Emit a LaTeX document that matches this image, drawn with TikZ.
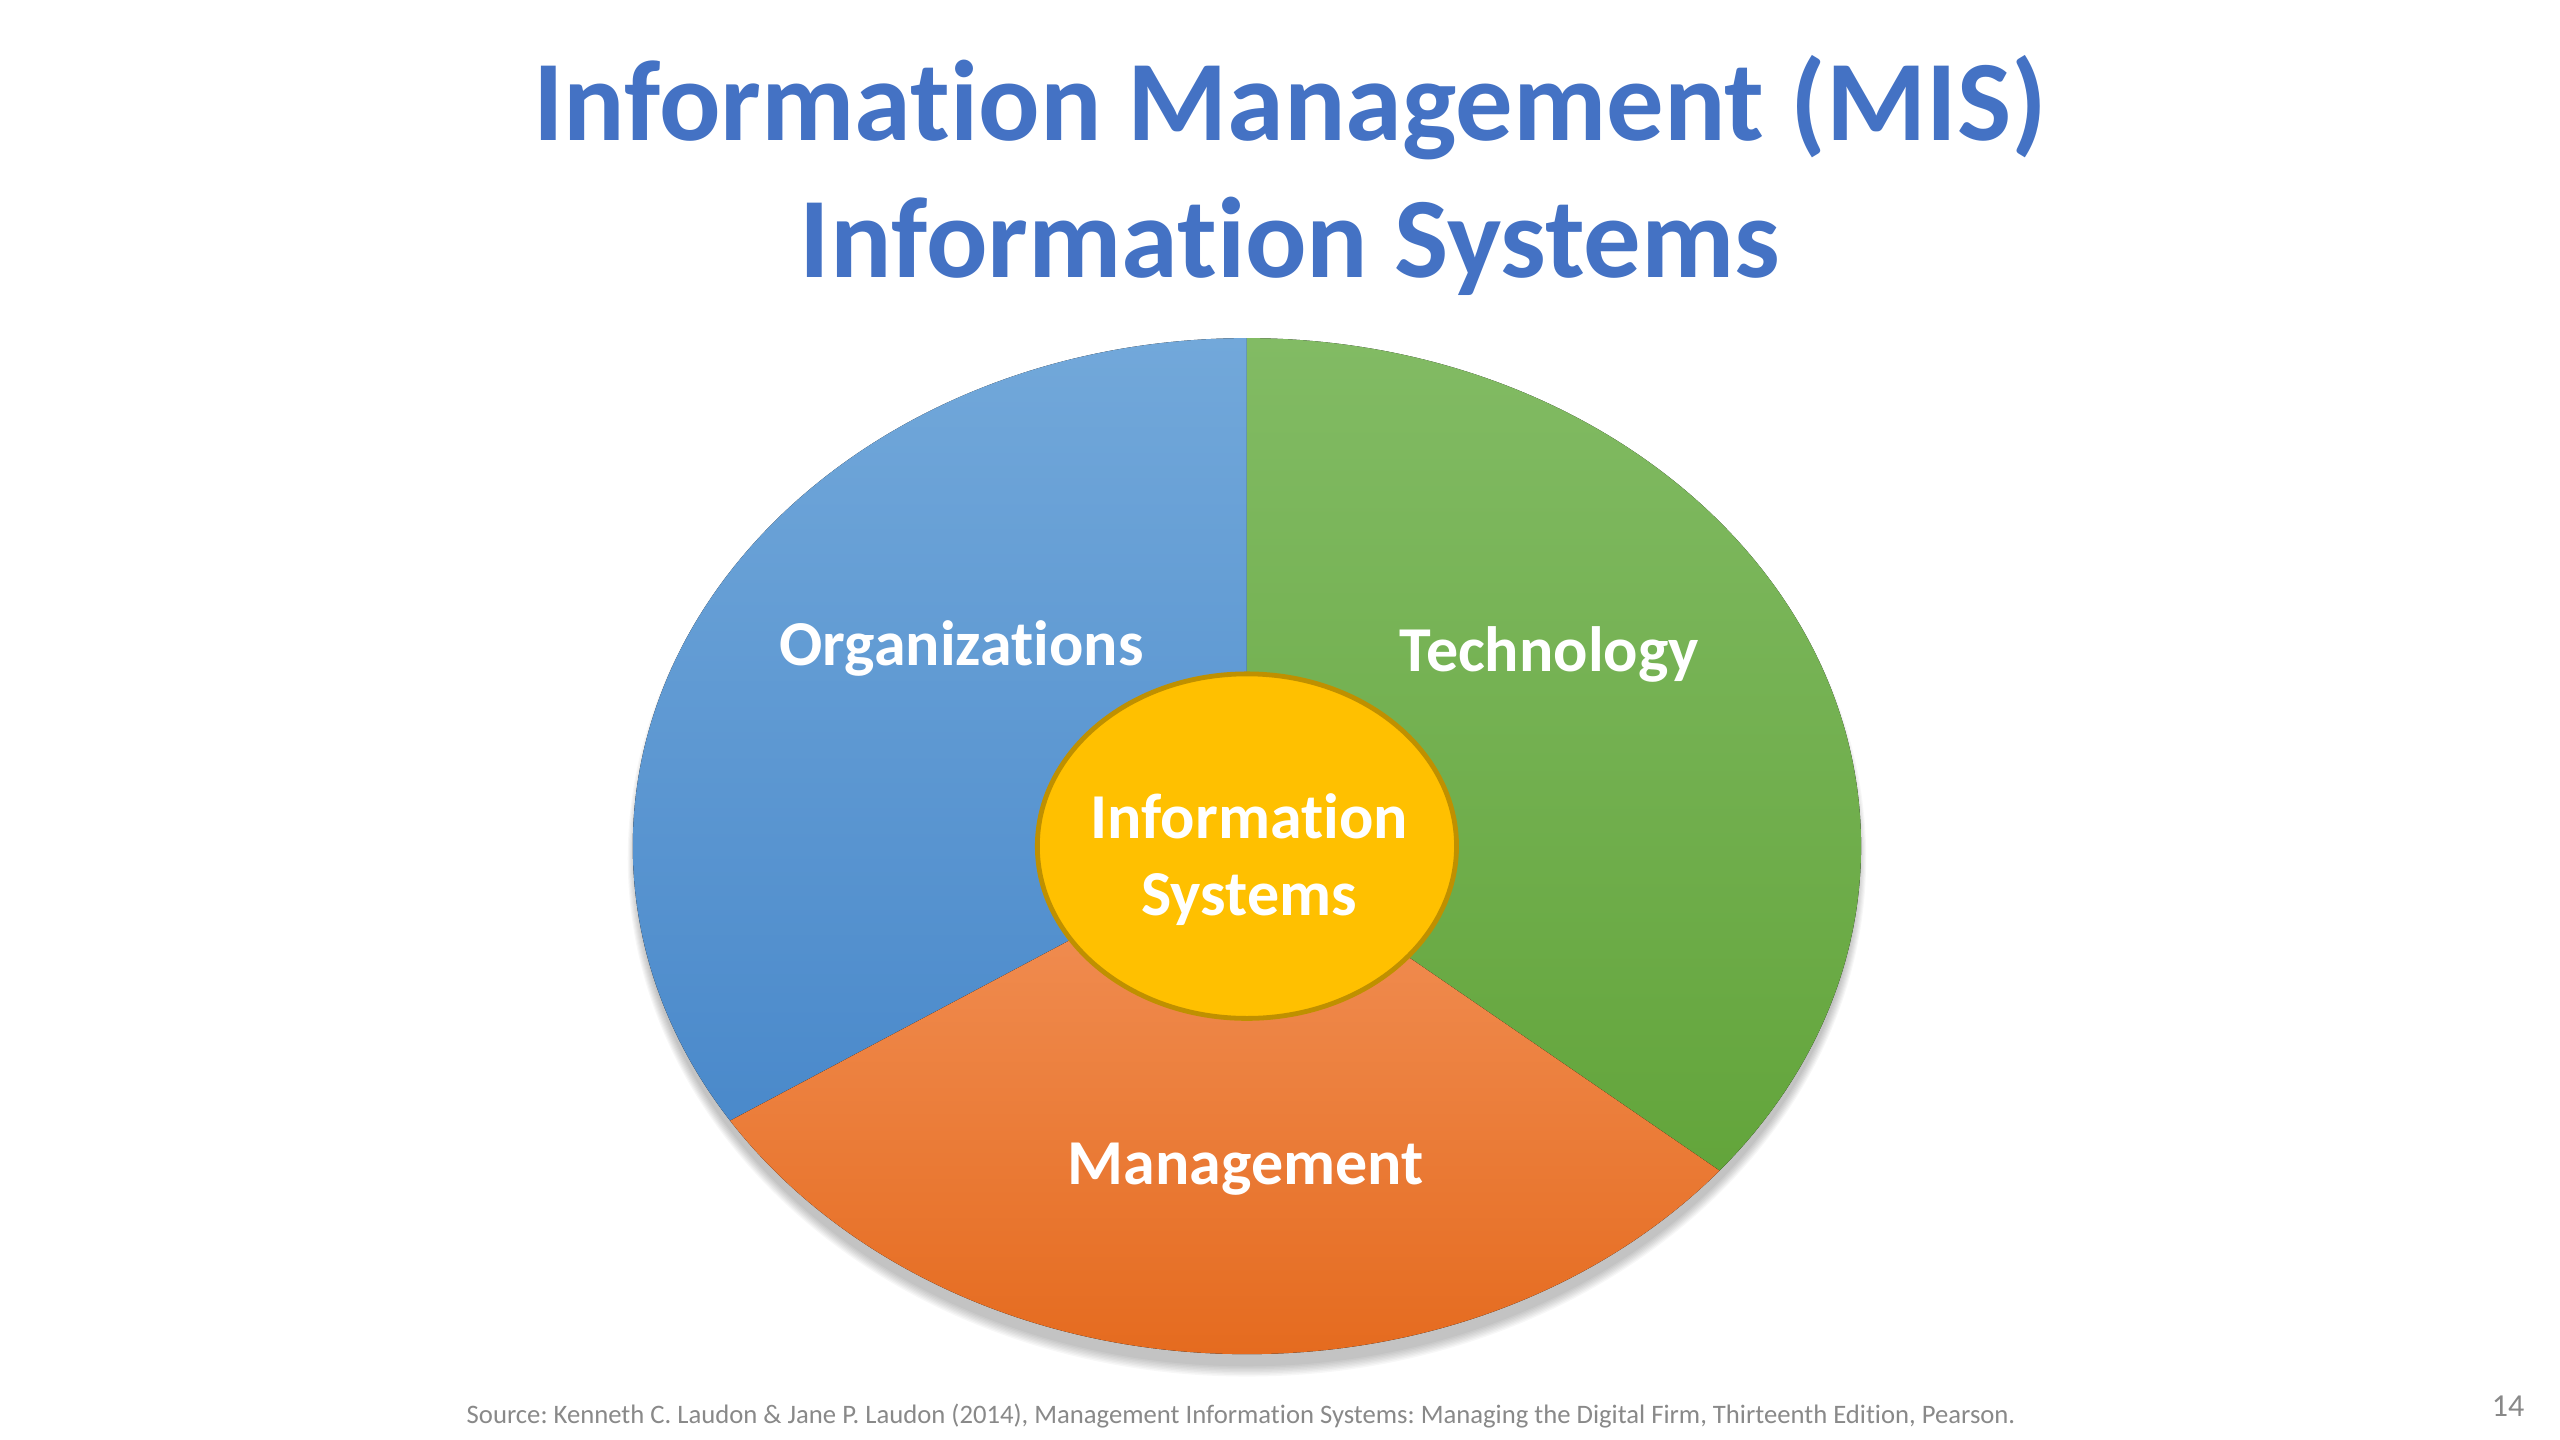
\documentclass[tikz,border=0pt]{standalone}
\usepackage{fontspec}
\setmainfont{Carlito}[Ligatures=NoCommon]
\usetikzlibrary{calc}
\frenchspacing
\definecolor{titleblue}{RGB}{68,114,196}
\definecolor{blueT}{RGB}{114,168,218}
\definecolor{blueB}{RGB}{62,128,198}
\definecolor{greenT}{RGB}{130,187,100}
\definecolor{greenB}{RGB}{92,160,50}
\definecolor{orangeT}{RGB}{255,185,147}
\definecolor{orangeB}{RGB}{229,107,31}
\definecolor{isfill}{RGB}{255,192,0}
\definecolor{isdraw}{RGB}{191,144,0}
\definecolor{srcgrey}{RGB}{137,137,137}
\tikzset{
  titletext/.style={text=titleblue, font=\fontsize{43}{52}\selectfont\bfseries, inner sep=0pt},
  pielabel/.style={text=white, font=\fontsize{24}{29}\selectfont\bfseries, inner sep=0pt, align=center},
  srctext/.style={text=srcgrey, font=\fontsize{10}{12}\selectfont\frenchspacing, inner sep=0pt},
}
\begin{document}
\begin{tikzpicture}[x=1pt,y=1pt]
\useasboundingbox (0,0) rectangle (960,-540);
\fill[white] (0,0) rectangle (960,-540);
% title
\node[titletext] (t1) at (483.7,-40.2) {Information Management (MIS)};
\node[titletext] (t2) at (483.7,-92.3) {Information Systems};
% pie
\coordinate (C) at (467.6,-317.3);
\foreach \i in {1,...,8}
  \fill[black, opacity=0.03] ($(C)+(0,-4.5)$) ellipse ({229+\i*0.4} and {190+\i*0.55});
\begin{scope}
\clip (C) -- (467.6,300) -- (-200,300) -- (-200,-623.3) -- (-108.4,-623.3) -- cycle;
\fill[top color=blueT, bottom color=blueB] (C) ellipse (230.3 and 190.5);
\end{scope}
\begin{scope}
\clip (C) -- (467.6,300) -- (1100,300) -- (1100,-680.6) -- (996.6,-680.6) -- cycle;
\fill[top color=greenT, bottom color=greenB] (C) ellipse (230.3 and 190.5);
\end{scope}
\begin{scope}
\clip (C) -- (-108.4,-623.3) -- (-108.4,-800) -- (996.6,-800) -- (996.6,-680.6) -- cycle;
\fill[top color=orangeT, bottom color=orangeB] (C) ellipse (230.3 and 190.5);
\end{scope}
% centre
\fill[isfill, draw=isdraw, line width=1.8pt] (C) ellipse (78.6 and 64.6);
\node[pielabel] (is) at (468.4,-322.4) {Information\\Systems};
\node[pielabel] (org) at (360.6,-243) {Organizations};
\node[pielabel] (tech) at (581,-245.6) {Technology};
\node[pielabel] (mgmt) at (467.1,-438.3) {Management};
% footer
\node[srctext] (src) at (465.4,-531) {Source: Kenneth C. Laudon \& Jane P. Laudon (2014), Management Information Systems: Managing the Digital Firm, Thirteenth Edition, Pearson.};
\node[srctext, font=\fontsize{12}{14}\selectfont] (pg) at (940.5,-527.5) {14};
\end{tikzpicture}
\end{document}
